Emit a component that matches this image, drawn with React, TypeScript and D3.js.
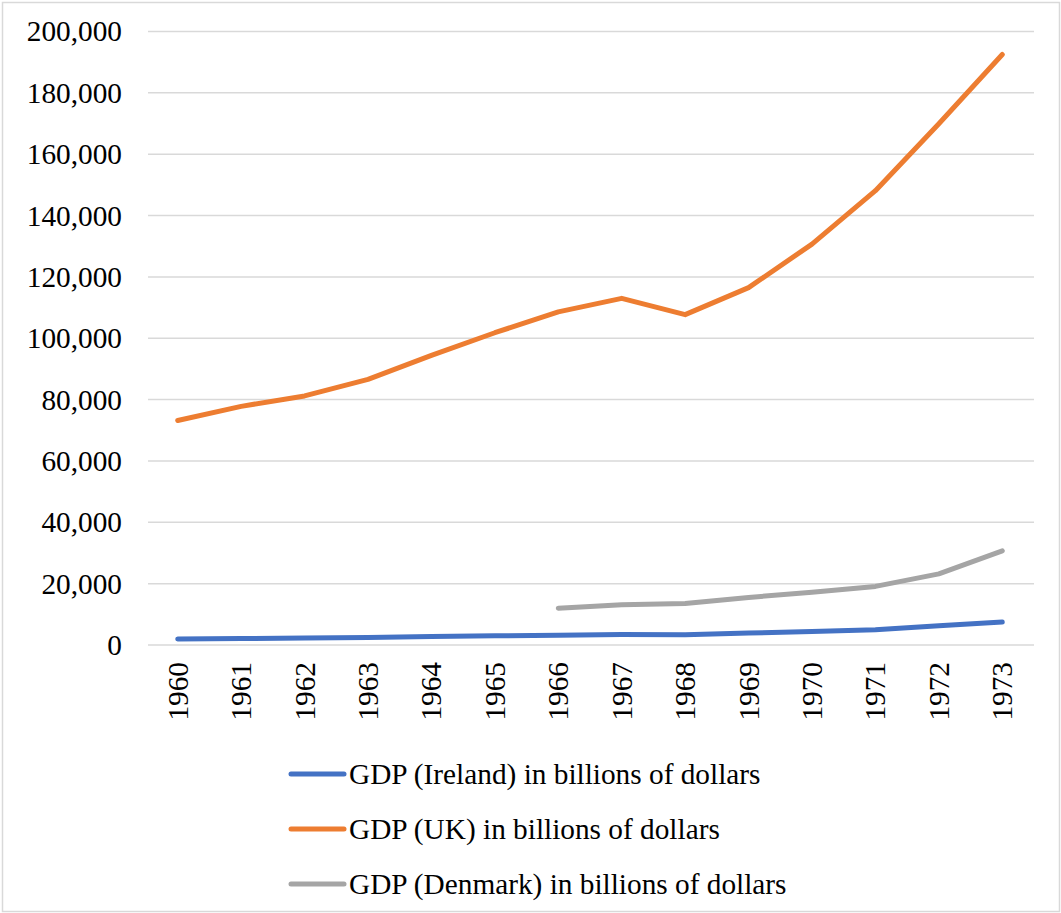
import React from "react";
import * as d3 from "d3";

const years = ["1960","1961","1962","1963","1964","1965","1966","1967","1968","1969","1970","1971","1972","1973"];
const ireland = [1940, 2090, 2270, 2460, 2780, 2990, 3150, 3390, 3340, 3880, 4400, 5000, 6300, 7490];
const uk = [73200, 77800, 81200, 86600, 94400, 101800, 108600, 113000, 107700, 116500, 130700, 148100, 169900, 192500];
const denmark: (number | null)[] = [null, null, null, null, null, null, 12000, 13100, 13500, 15500, 17200, 19100, 23200, 30700];
const yTicks = [0, 20000, 40000, 60000, 80000, 100000, 120000, 140000, 160000, 180000, 200000];

const seriesNames = [
  "GDP (Ireland) in billions of dollars",
  "GDP (UK) in billions of dollars",
  "GDP (Denmark) in billions of dollars",
];
const seriesColors = ["#4472C4", "#ED7D31", "#A5A5A5"];
const seriesData = [ireland, uk, denmark];

const W = 1061, H = 913;
const left = 146, right = 1034, top = 31.5, bottom = 645;
const textStyle: React.CSSProperties = { fontFamily: "Times New Roman, Liberation Serif, Tinos, serif", fontSize: 29.3 };

export default function App() {
  const x = d3.scaleBand<string>().domain(years).range([left, right]);
  const y = d3.scaleLinear().domain([0, 200000]).range([bottom, top]);
  const cx = (yr: string) => (x(yr) as number) + x.bandwidth() / 2;
  const fmt = d3.format(",");

  const line = d3
    .line<number | null>()
    .defined((d) => d != null)
    .x((_, i) => cx(years[i]))
    .y((d) => y(d as number));

  return (
    <svg width={W} height={H} style={{ position: "absolute", left: 0, top: 0, background: "#fff" }}>
      <rect x={2.5} y={2.5} width={1057} height={909} fill="#fff" stroke="#d9d9d9" strokeWidth={1.5} />
      {yTicks.map((t) => (
        <g key={t}>
          <line x1={left + 2} x2={right} y1={y(t)} y2={y(t)} stroke="#d9d9d9" strokeWidth={1.5} />
          <text x={122} y={y(t)} dy="0.34em" textAnchor="end" style={textStyle} fill="#000">
            {fmt(t)}
          </text>
        </g>
      ))}
      {years.map((yr) => (
        <text
          key={yr}
          transform={`translate(${cx(yr) + 10},${bottom + 17}) rotate(-90)`}
          textAnchor="end"
          style={textStyle}
          fill="#000"
        >
          {yr}
        </text>
      ))}
      {seriesData.map((s, i) => (
        <path
          key={i}
          d={line(s) || ""}
          fill="none"
          stroke={seriesColors[i]}
          strokeWidth={5}
          strokeLinejoin="round"
          strokeLinecap="round"
        />
      ))}
      {seriesNames.map((n, i) => {
        const ly = 774 + i * 55;
        return (
          <g key={n}>
            <line x1={291} x2={344} y1={ly} y2={ly} stroke={seriesColors[i]} strokeWidth={5} strokeLinecap="round" />
            <text x={349} y={ly} dy="0.33em" style={textStyle} fill="#000">
              {n}
            </text>
          </g>
        );
      })}
    </svg>
  );
}
